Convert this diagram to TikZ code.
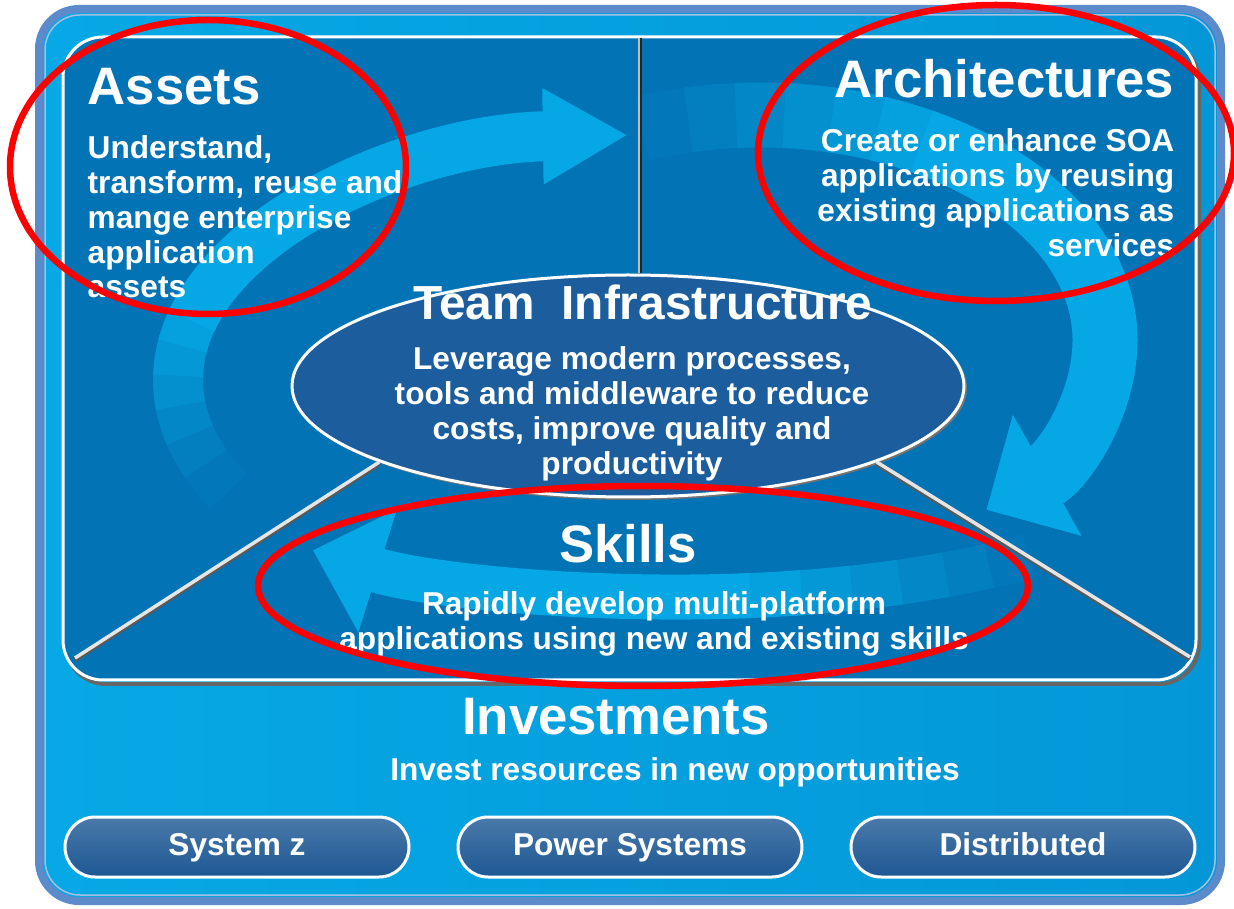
\documentclass[tikz,border=0pt]{standalone}
\usepackage{fontspec}
\setmainfont{Liberation Sans}
\usepackage{tikz}
\usetikzlibrary{shapes.geometric}
\usetikzlibrary{arrows.meta}

\definecolor{framecol}{HTML}{5B8BCB}
\definecolor{outercol}{HTML}{06A9E5}
\definecolor{outerdark}{HTML}{0497D8}
\definecolor{panelcol}{HTML}{0273B5}
\definecolor{teamcol}{HTML}{1B5D9D}
\definecolor{swirlcol}{HTML}{05A7E4}
\definecolor{btncol}{HTML}{1D5894}
\definecolor{btnhigh}{HTML}{5588C0}
\definecolor{markred}{HTML}{FF0000}

\tikzset{
  headline/.style={text=white, inner sep=0, font=\fontsize{15}{18}\selectfont\bfseries},
  blurb/.style={text=white, inner sep=0, font=\fontsize{9}{9.9}\selectfont\bfseries},
  swirl/.style={draw=swirlcol},
  platform/.style={draw=white, line width=0.03cm, rounded corners=0.3cm,
    minimum width=3.44cm, minimum height=0.6cm, inner sep=0,
    top color=btncol!80!white, middle color=btnhigh, bottom color=btncol,
    text=white, text height=6.6pt, text depth=1.9pt,
    font=\fontsize{9}{10}\selectfont\bfseries},
  redmark/.style={draw=markred, line width=0.065cm},
  seam/.style={white!90!black, line width=0.035cm},
  seamshadow/.style={black!65, line width=0.045cm},
}

\begin{document}
\begin{tikzpicture}[x=0.1mm, y=-0.1mm]
  \useasboundingbox (0,0) rectangle (1234,909);
  % frame and panel
  \draw[draw=framecol, line width=0.08cm, rounded corners=0.4cm, left color=outercol, right color=outerdark] (39,9) rectangle (1221,901);
  \draw[white!45!framecol, line width=0.015cm, rounded corners=0.35cm] (45,15) rectangle (1215,895);
  \draw[black!60, line width=0.04cm, rounded corners=0.4cm] (66,41) rectangle (1199,684);
  \draw[white, line width=0.03cm, fill=panelcol, rounded corners=0.4cm] (63,37) rectangle (1196,680);

  % the cycle, tails fade into the panel
  \begin{scope}
    \clip[rounded corners=0.4cm] (63,37) rectangle (1196,680);
    \foreach \a/\b/\o in {207/199/10, 200/192/22, 193/185/38, 186/178/55, 179/171/72, 172/165/88}
      \draw[draw=swirlcol!\o!panelcol, line width=0.5cm] (640,380) ++(\a:4.62cm and 2.45cm) arc[start angle=\a, end angle=\b, x radius=4.62cm, y radius=2.45cm];
    \draw[swirl, line width=0.5cm, -{Triangle[width=0.9cm,length=0.85cm]}] (640,380) ++(166:4.62cm and 2.45cm) arc[start angle=166, end angle=91.5, x radius=4.62cm, y radius=2.45cm];
    \foreach \a/\b/\o in {110/101/10, 102/93/22, 94/85/38, 86/77/55, 78/69/72, 70/61/88}
      \draw[draw=swirlcol!\o!panelcol, line width=0.65cm] (760,340) ++(\a:3.45cm and 2.25cm) arc[start angle=\a, end angle=\b, x radius=3.45cm, y radius=2.25cm];
    \draw[swirl, line width=0.65cm, -{Triangle[width=1.35cm,length=0.7cm]}] (760,340) ++(62:3.45cm and 2.25cm) arc[start angle=62, end angle=-49, x radius=3.45cm, y radius=2.25cm];
    \foreach \a/\b/\o in {-46/-53/10, -52/-59/22, -58/-65/38, -64/-71/55, -70/-77/72, -76/-83/88}
      \draw[draw=swirlcol!\o!panelcol, line width=0.45cm] (680,450) ++(\a:5.02cm and 1.47cm) arc[start angle=\a, end angle=\b, x radius=5.02cm, y radius=1.47cm];
    \draw[swirl, line width=0.45cm, -{Triangle[width=1.25cm,length=0.68cm]}] (680,450) ++(-82:5.02cm and 1.47cm) arc[start angle=-82, end angle=-137, x radius=5.02cm, y radius=1.47cm];
  \end{scope}

  % centre
  \fill[black!55] (630,388) ellipse [x radius=3.37cm, y radius=1.12cm];
  \node[ellipse, draw=white, line width=0.03cm, fill=teamcol, minimum width=6.72cm, minimum height=2.22cm, inner sep=0] (team) at (628,386) {};

  \coordinate (divtop) at (641,38);
  \coordinate (blcorner) at (75,658);
  \coordinate (brcorner) at (1190,657);
  \draw[white!75!black, line width=0.02cm] ([xshift=-0.02cm]divtop) -- ([xshift=-0.02cm]divtop |- team.north);
  \draw[black!85, line width=0.025cm] (divtop) -- (divtop |- team.north);
  \draw[seamshadow] ([yshift=-0.02cm]team.197) -- ([yshift=-0.02cm]blcorner);
  \draw[seamshadow] ([yshift=-0.02cm]team.-17) -- ([yshift=-0.02cm]brcorner);
  \draw[seam] (team.197) -- (blcorner);
  \draw[seam] (team.-17) -- (brcorner);

  % texts
  \node[headline, anchor=base west] (assets) at (87,105) {Assets};
  \node[blurb, anchor=north west, align=left] (assetstxt) at (87,135) {Understand,\\transform, reuse and\\mange enterprise\\application\\assets};
  \node[headline, anchor=base east] (arch) at (1175,98) {Architectures};
  \node[blurb, anchor=north east, align=right] (archtxt) at (1175,128) {Create or enhance SOA\\applications by reusing\\existing applications as\\services};
  \node[headline, anchor=base, font=\fontsize{13.6}{16}\selectfont\bfseries] (teamhead) at (643,320) {Team~~Infrastructure};
  \node[blurb, anchor=north, align=center] (teamtxt) at (632,346) {Leverage modern processes,\\tools and middleware to reduce\\costs, improve quality and\\productivity};
  \node[headline, anchor=base] (skills) at (628,563) {Skills};
  \node[blurb, anchor=north, align=center] (skillstxt) at (654,591) {Rapidly develop multi-platform\\applications using new and existing skills};
  \node[headline, anchor=base] (invest) at (616,735) {Investments};
  \node[blurb, anchor=base] (investtxt) at (675,780) {Invest resources in new opportunities};

  % platforms
  \node[platform] (sysz) at (237,847) {System z};
  \node[platform] (power) at (630,847) {Power Systems};
  \node[platform] (distrib) at (1023,847) {Distributed};

  % red marks
  \draw[redmark] (208,167) ellipse [x radius=1.98cm, y radius=1.47cm];
  \draw[redmark] (996,153) ellipse [x radius=2.38cm, y radius=1.48cm];
  \draw[redmark] (643,586) ellipse [x radius=3.85cm, y radius=1.0cm];
\end{tikzpicture}
\end{document}
